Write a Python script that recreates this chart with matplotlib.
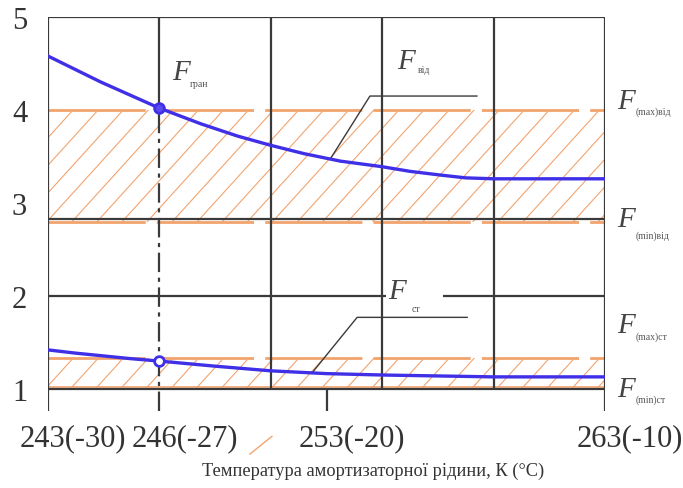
import numpy as np
import matplotlib.pyplot as plt
from matplotlib.patches import Rectangle
from matplotlib.transforms import ScaledTranslation

plt.rcParams['font.family'] = ['Liberation Serif', 'DejaVu Serif']
plt.rcParams['lines.scale_dashes'] = False

# зусилля відбою (верхня крива) і стиску (нижня крива) від температури
temp_vid = [243, 244.9, 247, 248.5, 249.8, 251, 252.2, 253.5, 255, 256, 257.1, 258, 259, 261, 263]
f_vid = [4.58, 4.30, 4.02, 3.85, 3.72, 3.62, 3.53, 3.45, 3.39, 3.34, 3.30, 3.27, 3.26, 3.26, 3.26]
temp_st = [243, 244, 245, 246, 247, 249, 251, 253, 255, 257, 259, 263]
f_st = [1.42, 1.385, 1.355, 1.325, 1.30, 1.245, 1.195, 1.165, 1.15, 1.14, 1.13, 1.13]

# допустимі межі
band_vid = (2.80, 4.0)
band_st = (1.0, 1.33)

# гранична температура і точки на кривих
t_gran = 247
f_gran = [4.02, 1.30]

xtick_pos = [243, 247, 253, 263]
xtick_lab = ['243(-30)', '246(-27)', '253(-20)', '263(-10)']
ytick_pos = [1, 2, 3, 4, 5]
grid_x = [251, 255, 259]
grid_y = [1, 2, 2.83, 5]

black = '#3a3a3a'
blue = '#3f2fe6'
orange = '#f2a46e'
xmin, xmax = 243, 263
ybot = 0.763

fig = plt.figure(figsize=(6.83, 4.89), dpi=100)
ax = fig.add_axes([48/683, 77/489, 557/683, 394/489])
ax.set_xlim(xmin, xmax)
ax.set_ylim(ybot, 5.0)
for s in ax.spines.values():
    s.set_visible(False)


def hatch(y0, y1, step=0.9, slope=0.33):
    rect = Rectangle((xmin, y0), xmax - xmin, y1 - y0, facecolor='none', edgecolor='none')
    ax.add_patch(rect)
    dx = (y1 - y0) / slope
    for x0 in np.arange(xmin - dx, xmax + step, step):
        ln, = ax.plot([x0, x0 + dx], [y0, y1], color=orange, lw=0.8, zorder=1)
        ln.set_clip_path(rect)


hatch(*band_vid)
hatch(*band_st)

dash = (0, (70, 8))
ax.hlines([band_vid[1], band_vid[0], band_st[1]], xmin, xmax, colors=orange, lw=2.0,
          linestyles=[dash], zorder=2)
ax.hlines(band_st[0] + 0.02, xmin, xmax, colors=orange, lw=1.2, zorder=2)

# сітка
ax.hlines(grid_y, xmin, xmax, colors=black, lw=1.6, zorder=3)
ax.vlines(grid_x, 1, 5, colors=black, lw=1.6, zorder=3)
ax.vlines([xmin, xmax], ybot, 5, colors=black, lw=1.6, zorder=3)
ax.vlines(253, ybot, 1, colors=black, lw=1.6, zorder=3)
ax.vlines(t_gran, f_gran[0], 5, colors=black, lw=1.6, zorder=3)
ax.vlines(t_gran, ybot, f_gran[0], colors=black, lw=1.6, linestyles=[(0, (14, 4, 3, 4))], zorder=3)

# криві
ax.plot(temp_vid, f_vid, color=blue, lw=2.4, zorder=5, solid_joinstyle='round')
ax.plot(temp_st, f_st, color=blue, lw=2.4, zorder=5, solid_joinstyle='round')
ax.plot(t_gran, f_gran[0], 'o', ms=7, mfc='#5a4cf0', mec=blue, mew=2, zorder=6)
ax.plot(t_gran, f_gran[1], 'o', ms=7, mfc='white', mec=blue, mew=2, zorder=6)

# виноски
ax.plot([253.13, 254.56, 258.4], [3.47, 4.15, 4.15], color=black, lw=1, zorder=4)
ax.plot([252.5, 254.1, 258.05], [1.18, 1.77, 1.77], color=black, lw=1, zorder=4)

fkw = dict(fontsize=21, style='italic', color='#444444', va='center', ha='left', zorder=7)
skw = dict(fontsize=7, color='#555555', va='center', ha='left', zorder=8)
ax.text(247.45, 4.41, 'F', **fkw)
ax.text(248.1, 4.28, 'гран', **skw)
ax.text(255.53, 4.53, 'F', **fkw)
ax.text(256.29, 4.44, 'від', **skw)
# білий фон розриває лінію сітки за підписом
ax.text(255.2, 2.05, 'F     ', bbox=dict(fc='white', ec='none', pad=1), **fkw)
ax.text(256.05, 1.87, 'ст', **skw)

right = [(4.10, 3.99, '(max)від'), (2.83, 2.65, '(min)від'),
         (1.69, 1.57, '(max)ст'), (1.0, 0.89, '(min)ст')]
for yf, ys, sub in right:
    ax.text(263.43, yf, 'F', clip_on=False, **fkw)
    ax.text(264.11, ys, sub, clip_on=False, **skw)

# маленький зразок штрихування під віссю
ax.plot([250.25, 251.04], [0.30, 0.49], color=orange, lw=1, clip_on=False)

ax.set_xticks(xtick_pos, xtick_lab)
ax.set_yticks(ytick_pos)
ax.tick_params(axis='x', length=0, pad=9, labelsize=22, labelcolor='#333333')
ax.tick_params(axis='y', length=0, pad=15, labelsize=22, labelcolor='#333333')
shift = ScaledTranslation(0.25, 0, fig.dpi_scale_trans)
for lbl in ax.get_xticklabels():
    lbl.set_transform(lbl.get_transform() + shift)

fig.text(373/683, 1 - 471/489, 'Температура амортизаторної рідини, К (°С)',
         ha='center', va='center', fontsize=13.2, color='#333333')

fig.savefig('out.png', dpi=100)
